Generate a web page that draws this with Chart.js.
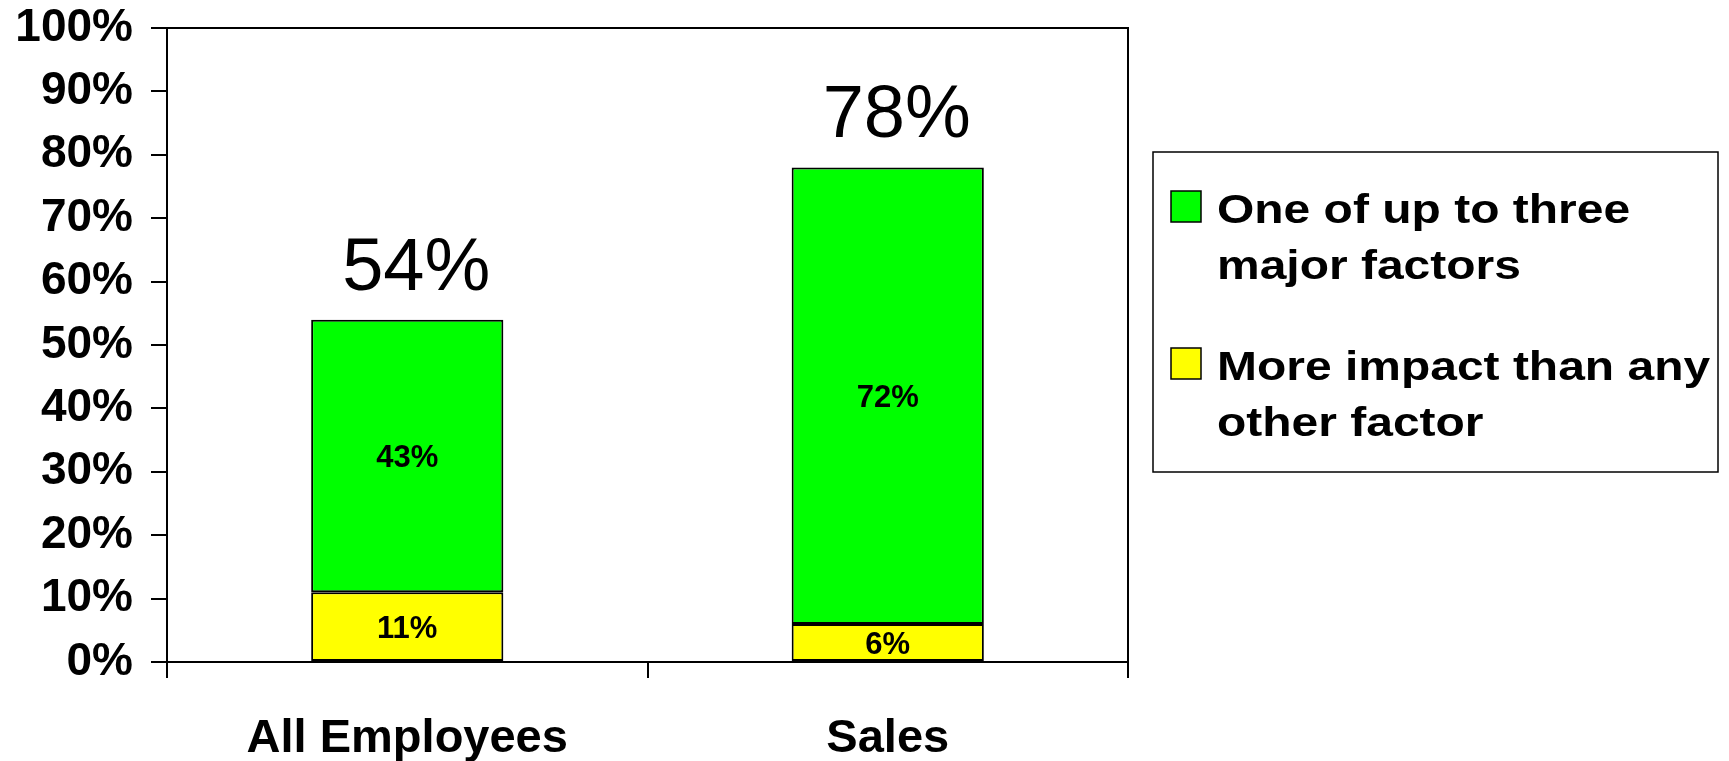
<!DOCTYPE html>
<html>
<head>
<meta charset="utf-8">
<script src="https://cdn.jsdelivr.net/npm/chart.js@4.4.1/dist/chart.umd.min.js"></script>
<style>
  html, body { margin: 0; padding: 0; background: #ffffff; }
  #wrap { width: 1729px; height: 761px; position: relative; }
</style>
</head>
<body>
<div id="wrap"><canvas id="c"></canvas></div>
<script>
// ---- data ----
const categories = ['All Employees', 'Sales'];
const moreImpact = [11, 6];          // yellow, bottom segment
const oneOfThree = [43, 72];         // green, top segment
const seriesLabels = [
  ['More impact than any', 'other factor'],
  ['One of up to three', 'major factors']
];
const yTickMax = 100;
const yTickStep = 10;

const FONT = "'Liberation Sans', Arial, Helvetica, sans-serif";

// frame (top and right border of plot)
const framePlugin = {
  id: 'frame',
  afterDraw(chart) {
    const { ctx, chartArea: a } = chart;
    ctx.save();
    ctx.strokeStyle = '#000';
    ctx.lineWidth = 2;
    ctx.beginPath();
    ctx.moveTo(a.left - 16, a.top);
    ctx.lineTo(a.right, a.top);
    ctx.lineTo(a.right, a.bottom);
    ctx.stroke();
    ctx.restore();
  }
};

// value labels inside bars, totals on top
const labelPlugin = {
  id: 'labels',
  afterDatasetsDraw(chart) {
    const ctx = chart.ctx;
    ctx.save();
    ctx.fillStyle = '#000';
    ctx.textAlign = 'center';
    ctx.textBaseline = 'middle';
    ctx.font = 'bold 31px ' + FONT;
    chart.data.datasets.forEach((ds, di) => {
      const meta = chart.getDatasetMeta(di);
      meta.data.forEach((bar, i) => {
        ctx.fillText(ds.data[i] + '%', bar.x, (bar.y + bar.base) / 2 + 3);
      });
    });
    // totals
    const last = chart.getDatasetMeta(chart.data.datasets.length - 1);
    ctx.font = '74px ' + FONT;
    ctx.textBaseline = 'alphabetic';
    last.data.forEach((bar, i) => {
      const total = chart.data.datasets.reduce((s, d) => s + d.data[i], 0);
      ctx.fillText(total + '%', bar.x + 9, bar.y - 30);
    });
    ctx.restore();
  }
};

// boxed legend on the right
const legendPlugin = {
  id: 'boxLegend',
  afterDraw(chart) {
    const ctx = chart.ctx;
    const box = { x: 1153, y: 152, w: 565, h: 320 };
    ctx.save();
    ctx.strokeStyle = '#000';
    ctx.lineWidth = 1.5;
    ctx.strokeRect(box.x, box.y, box.w, box.h);
    const order = chart.data.datasets.map((d, i) => i).reverse();
    const baselines = [223, 380];
    const lineGap = 56;
    order.forEach((di, k) => {
      const ds = chart.data.datasets[di];
      const base = baselines[k];
      ctx.fillStyle = ds.backgroundColor;
      ctx.fillRect(1171, base - 32, 30, 31);
      ctx.strokeStyle = '#000';
      ctx.lineWidth = 1.5;
      ctx.strokeRect(1171, base - 32, 30, 31);
      ctx.fillStyle = '#000';
      ctx.font = 'bold 41px ' + FONT;
      ctx.textAlign = 'left';
      ctx.textBaseline = 'alphabetic';
      const lines = Array.isArray(ds.label) ? ds.label : [ds.label];
      lines.forEach((ln, j) => {
        ctx.save();
        ctx.translate(1217, base + j * lineGap);
        ctx.scale(1.17, 1);
        ctx.fillText(ln, 0, 0);
        ctx.restore();
      });
    });
    ctx.restore();
  }
};

new Chart(document.getElementById('c'), {
  type: 'bar',
  data: {
    labels: categories,
    datasets: [
      { label: seriesLabels[0], data: moreImpact, backgroundColor: '#ffff00', borderColor: '#000', borderWidth: 2, borderSkipped: false },
      { label: seriesLabels[1], data: oneOfThree, backgroundColor: '#00ff00', borderColor: '#000', borderWidth: 2, borderSkipped: false }
    ]
  },
  options: {
    responsive: true,
    maintainAspectRatio: false,
    animation: false,
    layout: { padding: { left: 0, top: 28, right: 601, bottom: 0 } },
    datasets: { bar: { barPercentage: 0.4, categoryPercentage: 1.0 } },
    plugins: { legend: { display: false }, tooltip: { enabled: false } },
    scales: {
      x: {
        stacked: true,
        border: { color: '#000', width: 2 },
        grid: { offset: true, drawOnChartArea: false, color: '#000', lineWidth: 2, tickLength: 16 },
        ticks: { color: '#000', font: { family: FONT, size: 47, weight: 'bold' }, padding: 33, maxRotation: 0 },
        afterFit(s) { s.height = 99; s.paddingLeft = 0; s.paddingRight = 0; }
      },
      y: {
        stacked: true,
        min: 0, max: yTickMax,
        border: { color: '#000', width: 2 },
        grid: { drawOnChartArea: false, color: '#000', lineWidth: 2, tickLength: 16 },
        ticks: { stepSize: yTickStep, color: '#000', font: { family: FONT, size: 46, weight: 'bold' }, padding: 18,
                 callback: v => v + '%' },
        afterFit(s) { s.width = 167; s.paddingTop = 0; s.paddingBottom = 0; }
      }
    }
  },
  plugins: [framePlugin, labelPlugin, legendPlugin]
});
</script>
</body>
</html>
